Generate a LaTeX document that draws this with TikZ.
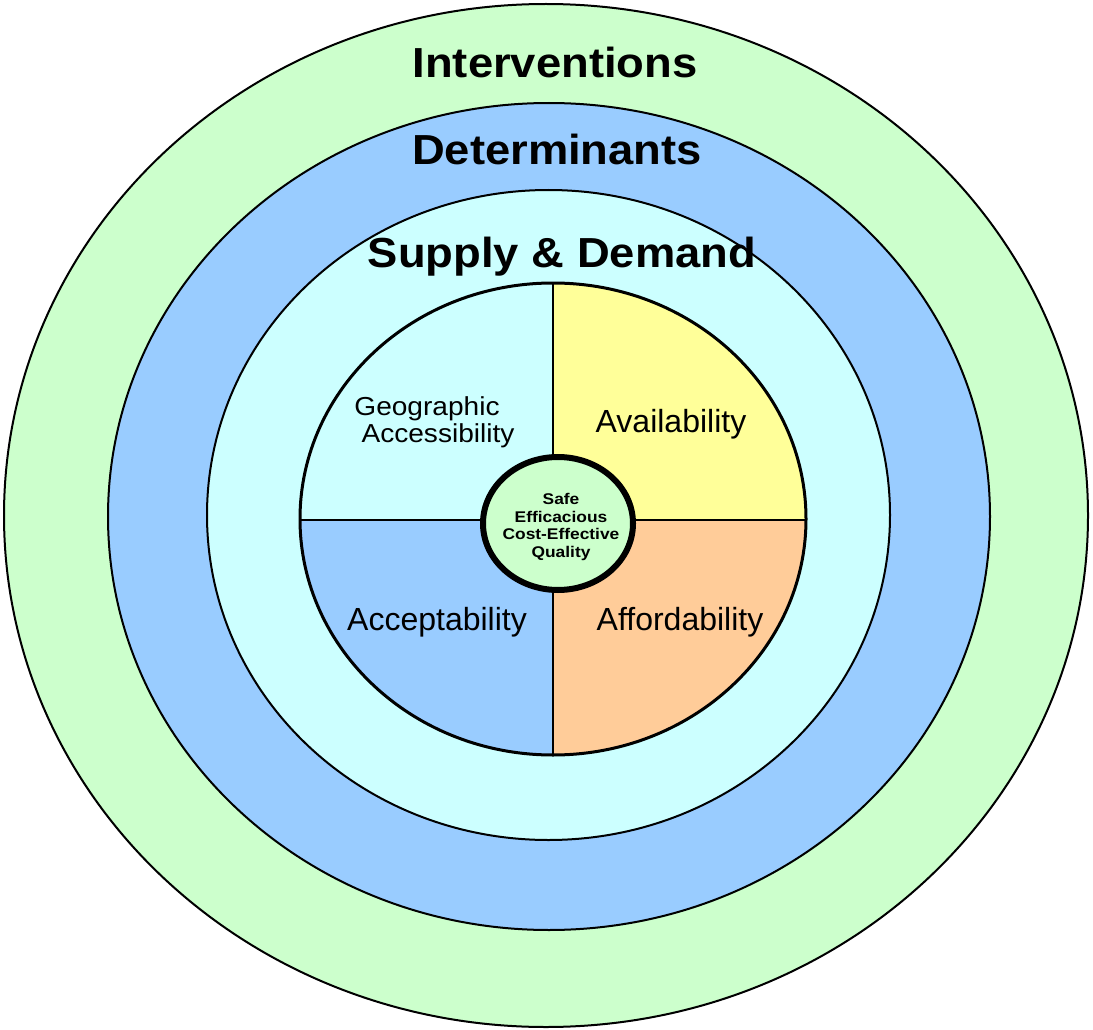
\documentclass[tikz,border=0pt]{standalone}
\usepackage{fontspec}
\setmainfont{Liberation Sans}
\definecolor{ringgreen}{HTML}{CCFFCC}
\definecolor{ringblue}{HTML}{99CCFF}
\definecolor{ringcyan}{HTML}{CCFFFF}
\definecolor{qyellow}{HTML}{FFFF99}
\definecolor{qorange}{HTML}{FFCC99}
\tikzset{
  ring/.style={draw=black, line width=2pt},
  title/.style={anchor=base, inner sep=0pt, font=\fontsize{42}{42}\selectfont\bfseries},
  qlabel/.style={anchor=base, inner sep=0pt, font=\fontsize{32}{32}\selectfont},
  divider/.style={draw=black, line width=1.5pt},
}
\begin{document}
\begin{tikzpicture}[x=1pt, y=-1pt]
\useasboundingbox (0,0) rectangle (1093,1030);
% rings
\filldraw[ring, fill=ringgreen] (546,515.5) ellipse [x radius=542, y radius=511.5];
\filldraw[ring, fill=ringblue] (549,516.5) ellipse [x radius=441, y radius=413.5];
\filldraw[ring, fill=ringcyan] (548.5,515) ellipse [x radius=341.5, y radius=325];
% quadrants
\begin{scope}
  \clip (553,519) ellipse [x radius=253, y radius=236];
  \fill[ringcyan] (290,270) rectangle (553,520);
  \fill[qyellow] (553,270) rectangle (820,520);
  \fill[ringblue] (290,520) rectangle (553,770);
  \fill[qorange] (553,520) rectangle (820,770);
\end{scope}
\coordinate (ctop) at (553,283);
\coordinate (cbot) at (553,755);
\coordinate (cleft) at (300,520);
\coordinate (cright) at (806,520);
\draw[divider] (ctop) -- (cbot);
\draw[divider] (cleft) -- (cright);
\draw[black, line width=3pt] (553,519) ellipse [x radius=253, y radius=236];
% centre
\filldraw[draw=black, line width=6pt, fill=ringgreen] (558,523.5) ellipse [x radius=75, y radius=66.5];
\node[align=center, inner sep=0pt, font=\fontsize{15.5}{17.5}\selectfont\bfseries] (core) at (561,527)
  {\scalebox{1.12}[1]{Safe}\\\scalebox{1.12}[1]{Efficacious}\\\scalebox{1.12}[1]{Cost-Effective}\\\scalebox{1.12}[1]{Quality}};
% titles
\node[title] (interv) at (555,78) {\scalebox{1.08}[1]{Interventions}};
\node[title] (determ) at (557,165) {\scalebox{1.08}[1]{Determinants}};
\node[title] (supdem) at (562,267) {\scalebox{1.08}[1]{Supply \& Demand}};
% quadrant labels
\node[qlabel] (avail) at (671,432) {Availability};
\node[qlabel] (accept) at (437,630) {Acceptability};
\node[qlabel] (afford) at (680,630) {Affordability};
\node[anchor=base, inner sep=0pt, font=\fontsize{26}{26}\selectfont] (geo) at (427,415) {\scalebox{1.08}[1]{Geographic}};
\node[anchor=base, inner sep=0pt, font=\fontsize{26}{26}\selectfont] (access) at (438,442) {\scalebox{1.08}[1]{Accessibility}};
\end{tikzpicture}
\end{document}
